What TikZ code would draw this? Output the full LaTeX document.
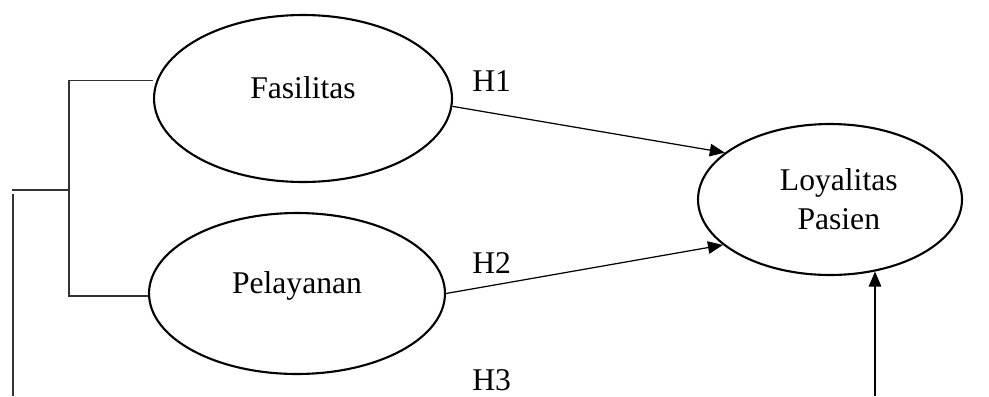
\documentclass[tikz,border=0pt]{standalone}
\usepackage{fontspec}
\setmainfont{Liberation Serif}
\usetikzlibrary{shapes.geometric,arrows.meta}

\begin{document}
\begin{tikzpicture}[x=0.02cm, y=-0.02cm, font=\fontsize{18}{22}\selectfont,
    var_node/.style={ellipse,draw,line width=1.2pt,inner sep=0,text height=12pt,text depth=12pt},
    dep_node/.style={ellipse,draw,line width=1.2pt,inner sep=0,align=center},
    h_label/.style={anchor=base west,inner sep=0},
    arrow_line/.style={line width=0.7pt,-{Triangle[length=0.3cm,width=0.25cm]}},
    bracket_line/.style={line width=0.8pt,black!80}]
    \useasboundingbox (0,0) rectangle (989,396);
    \node[var_node, minimum width=5.96cm, minimum height=3.34cm] (fas) at (303, 98.5) {Fasilitas};
    \node[var_node, minimum width=5.92cm, minimum height=3.22cm] (pel) at (297, 293.5) {Pelayanan};
    \node[dep_node, minimum width=5.28cm, minimum height=3.02cm] (loy) at (830, 199.5) {\hspace*{10pt}Loyalitas\\\hspace*{10pt}Pasien};
    \node[h_label] (h1) at (472, 91) {H1};
    \node[h_label] (h2) at (472, 273) {H2};
    \node[h_label] (h3) at (472, 390) {H3};
    \coordinate (brk) at (69, 190);
    \coordinate (mod) at (12, 190);
    \coordinate (modtop) at (13, 194);
    \coordinate (modfoot) at (13, 396);
    \coordinate (h3foot) at (875, 396);
    \draw[bracket_line] ([yshift=0.36cm]fas.west) -| (brk) |- ([yshift=-0.05cm]pel.west);
    \draw[bracket_line] (brk) -- (mod);
    \draw[bracket_line] (modtop) -- (modfoot);
    \draw[arrow_line] (fas.357) -- (loy.156);
    \draw[arrow_line] (pel.east) -- (loy.203);
    \draw[arrow_line] (h3foot) -- (h3foot |- loy.302);
\end{tikzpicture}
\end{document}
